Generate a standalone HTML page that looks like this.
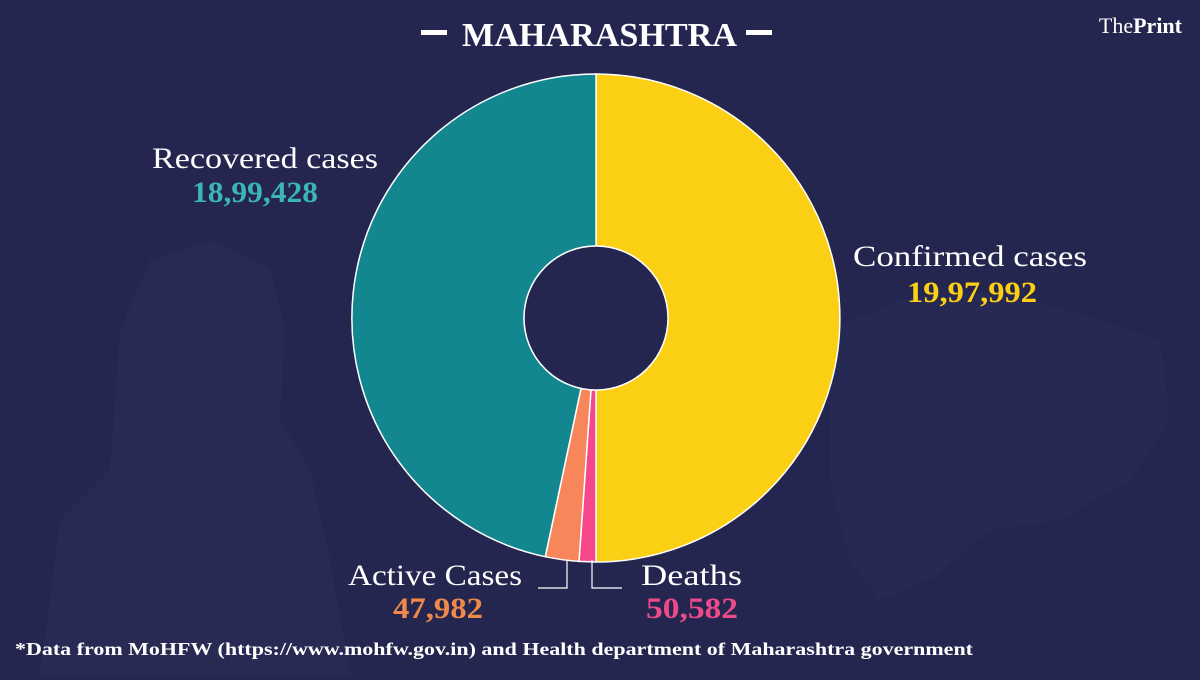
<!DOCTYPE html>
<html><head><meta charset="utf-8"><style>
body{margin:0;width:1200px;height:675px;overflow:hidden;background:#24264f;font-family:"Liberation Serif",serif;}
</style></head><body>
<svg width="1200" height="675" viewBox="0 0 1200 675" xmlns="http://www.w3.org/2000/svg">
<rect width="1200" height="675" fill="#24264f"/>
<path d="M830 330 L900 300 L960 290 L1030 300 L1100 320 L1160 340 L1170 420 L1130 480 L1060 520 L990 530 L930 580 L880 600 L850 560 L830 480 Z" fill="#282b56" opacity="0.8"/>
<path d="M40 675 L60 520 L110 470 L120 330 L150 260 L210 240 L270 270 L285 330 L280 420 L310 470 L330 560 L350 675 Z" fill="#292c55" opacity="0.8"/>
<g stroke="#ffffff" stroke-width="1.5">
<path d="M596 74 A244 244 0 0 1 596 562 L596 390 A72 72 0 0 0 596 246 Z" fill="#fbd014"/>
<path d="M596 562 L579 561.4 L591 389.8 L596 390 Z" fill="#f6478a"/>
<path d="M579 561.4 A244 244 0 0 1 545.3 556.7 L581 388.4 L591 389.8 Z" fill="#f7865a"/>
<path d="M545.3 556.7 A244 244 0 0 1 596 74 L596 246 A72 72 0 0 0 581 388.4 Z" fill="#12878f"/>
</g>
<circle cx="596" cy="318" r="72" fill="#24264f" stroke="#ffffff" stroke-width="1.5"/>
<g fill="none" stroke="#ffffff" stroke-width="1.2">
<path d="M567 560 V588 H538"/><path d="M592 560 V588 H622"/>
</g>
<g font-weight="bold" fill="#ffffff">
<rect x="421" y="30" width="26" height="5"/><rect x="746" y="30" width="26" height="5"/>
<text x="462" y="46" font-size="34" textLength="275" lengthAdjust="spacingAndGlyphs">MAHARASHTRA</text>
<text x="1182" y="33" font-size="22" text-anchor="end"><tspan font-weight="normal">The</tspan>Print</text>
</g>
<g font-size="30" lengthAdjust="spacingAndGlyphs">
<text x="152" y="168" fill="#fff" textLength="226" lengthAdjust="spacingAndGlyphs">Recovered cases</text>
<text x="192" y="202" fill="#3cb5b8" font-weight="bold" textLength="126" lengthAdjust="spacingAndGlyphs">18,99,428</text>
<text x="853" y="266" fill="#fff" textLength="234" lengthAdjust="spacingAndGlyphs">Confirmed cases</text>
<text x="907" y="302" fill="#fbd014" font-weight="bold" textLength="130" lengthAdjust="spacingAndGlyphs">19,97,992</text>
<text x="348" y="585" fill="#fff" textLength="174" lengthAdjust="spacingAndGlyphs">Active Cases</text>
<text x="393" y="618" fill="#f08a4b" font-weight="bold" textLength="90" lengthAdjust="spacingAndGlyphs">47,982</text>
<text x="641" y="585" fill="#fff" textLength="101" lengthAdjust="spacingAndGlyphs">Deaths</text>
<text x="646" y="618" fill="#ee4a8a" font-weight="bold" textLength="92" lengthAdjust="spacingAndGlyphs">50,582</text>
</g>
<text x="15" y="655" font-size="18" fill="#fff" font-weight="bold" textLength="958" lengthAdjust="spacingAndGlyphs">*Data from MoHFW (https://www.mohfw.gov.in)  and Health department of  Maharashtra government</text>
</svg>
</body></html>
